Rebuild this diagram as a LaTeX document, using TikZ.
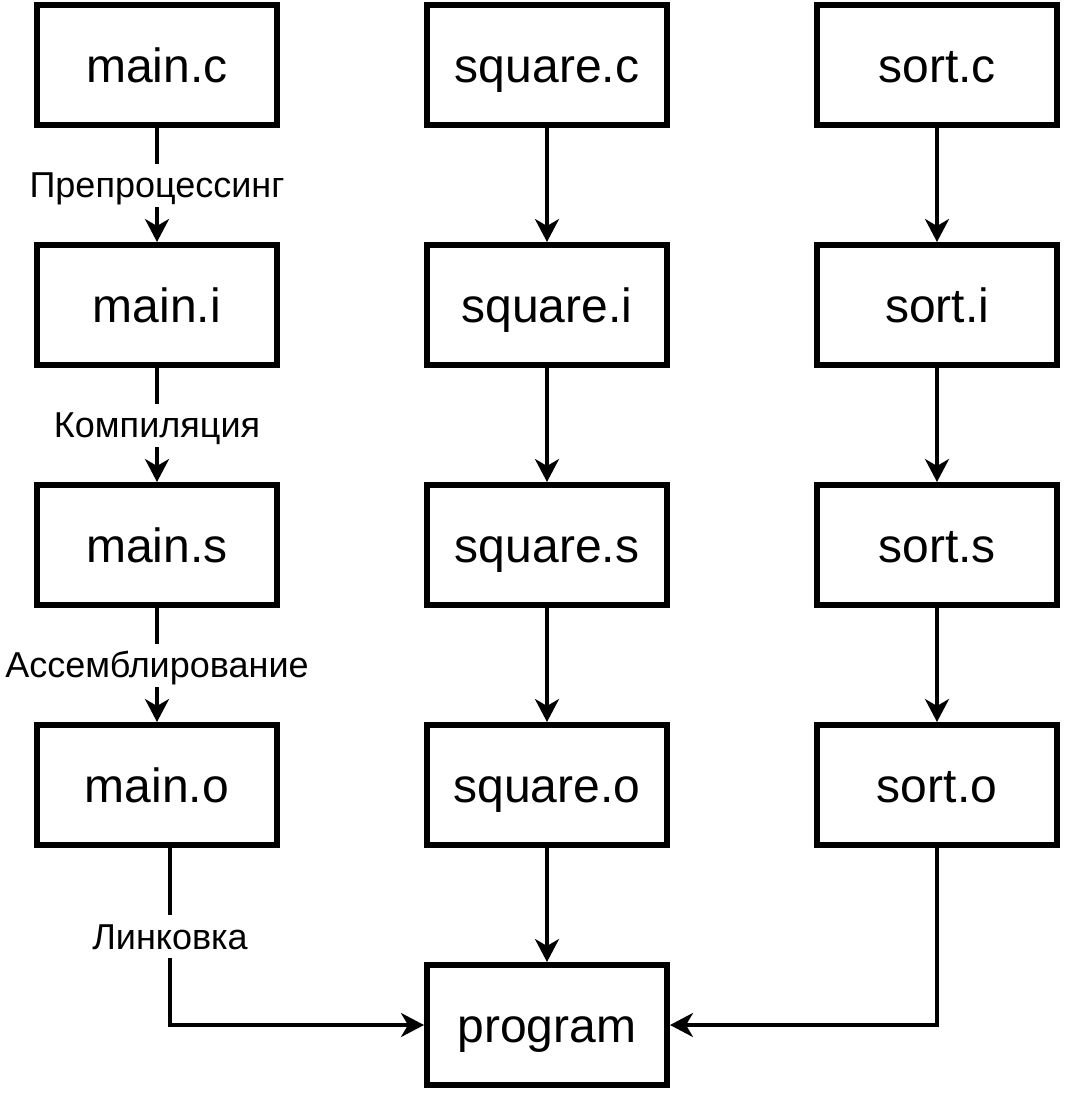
\documentclass[tikz,border=0pt]{standalone}
\usepackage{fontspec}
\setmainfont{Liberation Sans}
\usetikzlibrary{arrows.meta}
\begin{document}
\begin{tikzpicture}[x=1pt,y=-1pt,
    file/.style={draw,line width=6pt,minimum width=240pt,minimum height=120pt,
      inner sep=0pt,font=\fontsize{48}{58}\selectfont,text height=44pt,text depth=9pt},
    stage/.style={fill=white,inner sep=1pt,font=\fontsize{36}{43}\selectfont,
      text height=33pt,text depth=8pt},
    flow/.style={line width=3.5pt,-{Stealth[length=23pt,width=24pt,inset=7pt]}}]
  \useasboundingbox (0,0) rectangle (1092,1098);
  \draw
    (157,65) node[file] (mc){main.c}
    (157,305) node[file] (mi){main.i}
    (157,545) node[file] (ms){main.s}
    (157,785) node[file] (mo){main.o}
    (547,65) node[file] (qc){square.c}
    (547,305) node[file] (qi){square.i}
    (547,545) node[file] (qs){square.s}
    (547,785) node[file] (qo){square.o}
    (937,65) node[file] (sc){sort.c}
    (937,305) node[file] (si){sort.i}
    (937,545) node[file] (ss){sort.s}
    (937,785) node[file] (so){sort.o}
    (547,1025) node[file] (prog){program};
  \begin{scope}[flow]
    \draw (mc) to node[stage]{Препроцессинг} (mi);
    \draw (mi) to node[stage]{Компиляция} (ms);
    \draw (ms) to node[stage]{Ассемблирование} (mo);
    \draw ([xshift=13pt]mo.south) |- node[stage,pos=0.25]{Линковка} (prog);
    \draw (qc) to (qi);
    \draw (qi) to (qs);
    \draw (qs) to (qo);
    \draw (qo) to (prog);
    \draw (sc) to (si);
    \draw (si) to (ss);
    \draw (ss) to (so);
    \draw (so) |- (prog);
  \end{scope}
\end{tikzpicture}
\end{document}
